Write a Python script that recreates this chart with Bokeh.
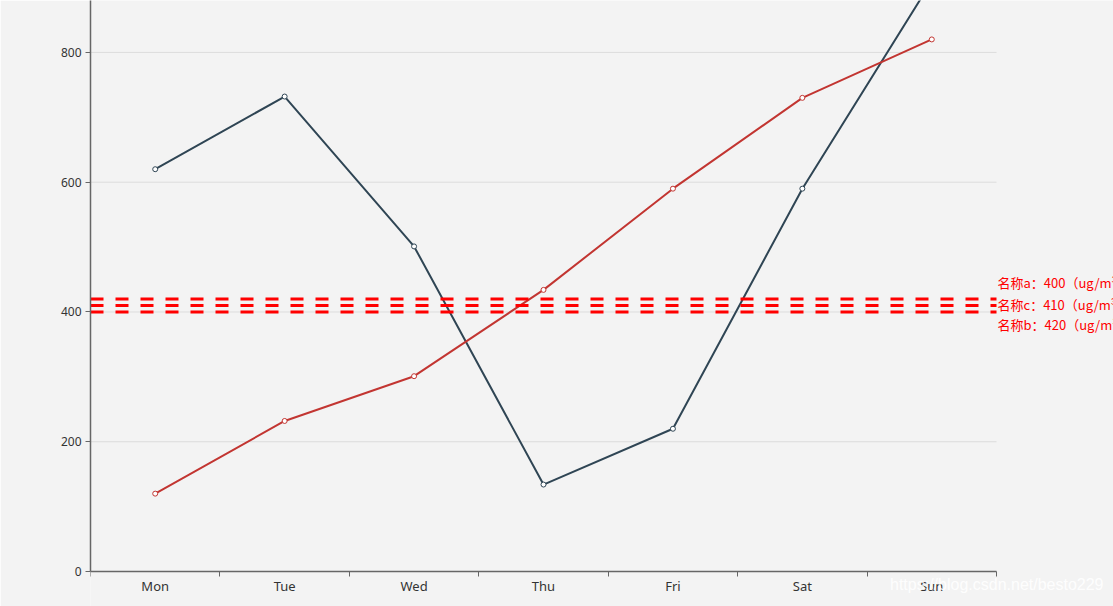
from bokeh.plotting import figure
from bokeh.models import Range1d, FixedTicker, Label, ColumnDataSource
from bokeh.embed import file_html
from bokeh.resources import INLINE

days = ["Mon", "Tue", "Wed", "Thu", "Fri", "Sat", "Sun"]
series_dark = [620, 732, 501, 134, 220, 590, 910]
series_red = [120, 232, 301, 434, 590, 730, 820]
y_ticks = [0, 200, 400, 600, 800]
mark_names = ["名称a", "名称b", "名称c"]
mark_values = [400, 420, 410]
mark_label_shift = [29, -26, 1]

n = len(days)
pos = [i + 0.5 for i in range(n)]

W, H = 1113, 606
left, frame_r, axis_y, top_val = 90, 996, 571, 880
px_per_cat = (frame_r - left) / n
px_per_unit = axis_y / top_val
x_end = (W - left) / px_per_cat
y_start = -(H - axis_y) / px_per_unit

p = figure(width=W, height=H, output_backend="svg", toolbar_location=None,
           x_range=Range1d(0, x_end), y_range=Range1d(y_start, top_val),
           min_border_left=left, min_border_right=0, min_border_top=0, min_border_bottom=0)
p.background_fill_color = "#f3f3f3"
p.border_fill_color = "#f3f3f3"
p.outline_line_color = None

# axes
p.xaxis.fixed_location = 0
p.xaxis.bounds = (0, n)
p.xaxis.ticker = FixedTicker(ticks=pos, minor_ticks=list(range(n + 1)))
p.xaxis.major_label_overrides = {x: d for x, d in zip(pos, days)}
p.xaxis.major_tick_out = 0
p.xaxis.major_tick_in = 0
p.xaxis.minor_tick_out = 5
p.xaxis.minor_tick_in = 0
p.xaxis.minor_tick_line_color = "#666666"
p.xaxis.major_label_standoff = 0
p.yaxis.bounds = (0, top_val)
p.yaxis.ticker = FixedTicker(ticks=y_ticks)
p.yaxis.major_tick_out = 5
p.yaxis.major_tick_in = 0
p.yaxis.minor_tick_line_color = None
p.yaxis.major_label_standoff = 4
for ax in (p.xaxis[0], p.yaxis[0]):
    ax.axis_line_color = "#666666"
    ax.axis_line_width = 1.5
    ax.major_tick_line_color = "#666666"
    ax.major_label_text_color = "#333333"
    ax.major_label_text_font = "Noto Sans"
    ax.major_label_text_font_size = "12px"
p.xaxis.major_label_text_font_size = "13px"
p.xgrid.grid_line_color = None
p.ygrid.grid_line_color = None

# horizontal split lines limited to the category span
gsrc = ColumnDataSource(dict(x0=[0] * (len(y_ticks) - 1), x1=[n] * (len(y_ticks) - 1),
                             y=y_ticks[1:]))
p.segment(x0="x0", x1="x1", y0="y", y1="y", source=gsrc, line_color="#dcdcdc",
          line_width=1, level="underlay")

src = ColumnDataSource(dict(x=pos, dark=series_dark, red=series_red))
p.line("x", "dark", source=src, line_color="#2f4554", line_width=2)
p.scatter("x", "dark", source=src, size=5, marker="circle", fill_color="#ffffff",
          line_color="#2f4554", line_width=1)
p.line("x", "red", source=src, line_color="#c23531", line_width=2)
p.scatter("x", "red", source=src, size=5, marker="circle", fill_color="#ffffff",
          line_color="#c23531", line_width=1)

# mark lines with labels
msrc = ColumnDataSource(dict(x0=[0] * len(mark_values), x1=[n] * len(mark_values),
                             y=mark_values))
p.segment(x0="x0", x1="x1", y0="y", y1="y", source=msrc, line_color="#ff0000",
          line_width=3, line_dash="13 12")
for name, v, sh in zip(mark_names, mark_values, mark_label_shift):
    p.add_layout(Label(x=n, y=v, x_offset=1, y_offset=sh,
                       text=f"{name}：{v}（ug/m³）", text_color="#ff0000",
                       text_font="Noto Sans CJK SC", text_font_size="13px",
                       text_baseline="middle", text_align="left"))

# watermark
p.add_layout(Label(x=n, y=0, x_offset=107, y_offset=-13,
                   text="https://blog.csdn.net/besto229", text_color="#ffffff",
                   text_alpha=0.9, text_font="Liberation Sans", text_font_size="16px",
                   text_baseline="middle", text_align="right"))

open("out.html", "w").write(file_html(p, INLINE))
